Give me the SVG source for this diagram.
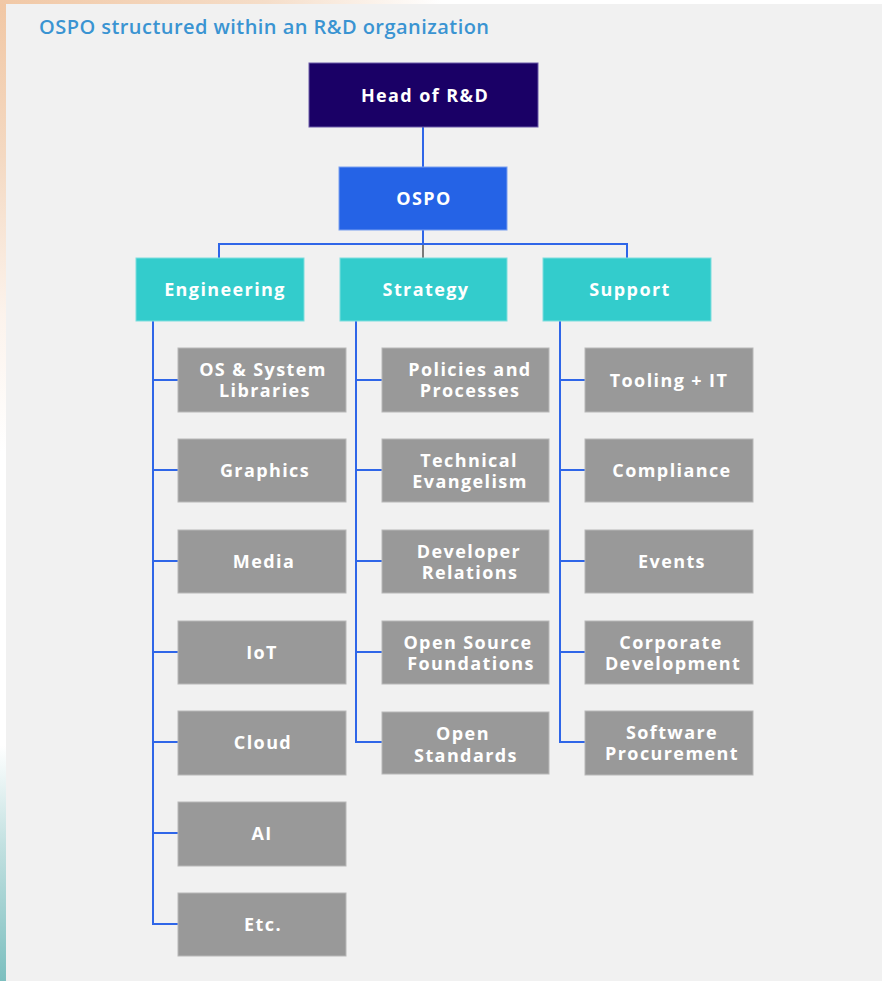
<svg xmlns="http://www.w3.org/2000/svg" width="882" height="981" viewBox="0 0 882 981">
  <defs>
    <linearGradient id="edgeLeft" x1="0" y1="0" x2="0" y2="1">
      <stop offset="0" stop-color="#f1c7a4"/>
      <stop offset="0.16" stop-color="#f4d9c2"/>
      <stop offset="0.32" stop-color="#fcf3ec"/>
      <stop offset="0.46" stop-color="#ffffff"/>
      <stop offset="0.76" stop-color="#ffffff"/>
      <stop offset="0.86" stop-color="#c3e1e1"/>
      <stop offset="1" stop-color="#7cbfbf"/>
    </linearGradient>
    <linearGradient id="edgeTop" x1="0" y1="0" x2="1" y2="0">
      <stop offset="0" stop-color="#f1c8a6"/>
      <stop offset="0.3" stop-color="#f5ddc8"/>
      <stop offset="0.5" stop-color="#ffffff"/>
      <stop offset="1" stop-color="#ffffff"/>
    </linearGradient>
    <style>
      .label { font-family: "Open Sans", "Noto Sans", "Liberation Sans", sans-serif; font-weight: 700; font-size: 18px; letter-spacing: 1.4px; fill: #ffffff; text-anchor: middle; dominant-baseline: central; }
      .title { font-family: "Open Sans", "Noto Sans", "Liberation Sans", sans-serif; font-weight: 600; font-size: 20px; letter-spacing: 0.45px; fill: #3a94d2; }
      .head { fill: #1a0066; stroke: #6b5aa8; stroke-width: 1; }
      .ospo { fill: #2563e6; stroke: #7aa0f0; stroke-width: 1; }
      .dept { fill: #33cccc; stroke: #7fdede; stroke-width: 1; }
      .team { fill: #999999; stroke: #b8b8b8; stroke-width: 1; }
      .link { fill: none; stroke: #2f66e8; stroke-width: 2; }
      .stub { fill: none; stroke: #7a7a7a; stroke-width: 2; }
    </style>
  </defs>

  <!-- page backdrop and framed panel -->
  <rect x="0" y="0" width="882" height="981" fill="#ffffff"/>
  <rect x="0" y="0" width="6" height="981" fill="url(#edgeLeft)"/>
  <rect x="0" y="0" width="882" height="4" fill="url(#edgeTop)"/>
  <rect x="6" y="4" width="876" height="977" fill="#f1f1f1"/>

  <text class="title" x="39" y="34">OSPO structured within an R&amp;D organization</text>

  <!-- connectors -->
  <g id="connectors">
    <path class="link" d="M423 127 V167"/>
    <path class="link" d="M423 230 V244"/>
    <path class="link" d="M219 258 V244 H627 V258"/>
    <path class="stub" d="M423 245 V258"/>
    <!-- Engineering column -->
    <path class="link" d="M153 321 V924 H178"/>
    <path class="link" d="M153 380 H178 M153 470 H178 M153 561 H178 M153 652 H178 M153 742 H178 M153 833 H178"/>
    <!-- Strategy column -->
    <path class="link" d="M356 321 V742 H382"/>
    <path class="link" d="M356 380 H382 M356 470 H382 M356 561 H382 M356 652 H382"/>
    <!-- Support column -->
    <path class="link" d="M560 321 V742 H585"/>
    <path class="link" d="M560 380 H585 M560 470 H585 M560 561 H585 M560 652 H585"/>
  </g>

  <g id="head-rd">
    <rect class="head" x="309" y="63" width="229" height="64"/>
    <text class="label" x="425" y="95">Head of R&amp;D</text>
  </g>
  <g id="ospo">
    <rect class="ospo" x="339" y="167" width="168" height="63"/>
    <text class="label" x="424" y="198">OSPO</text>
  </g>

  <g id="engineering">
    <rect class="dept" x="136" y="258" width="168" height="63"/>
    <text class="label" x="225" y="289">Engineering</text>
  </g>
  <g id="strategy">
    <rect class="dept" x="340" y="258" width="167" height="63"/>
    <text class="label" x="426" y="289">Strategy</text>
  </g>
  <g id="support">
    <rect class="dept" x="543" y="258" width="168" height="63"/>
    <text class="label" x="630" y="289">Support</text>
  </g>

  <!-- Engineering teams -->
  <g id="os-system-libraries">
    <rect class="team" x="178" y="348" width="168" height="64"/>
    <text class="label"><tspan x="263" y="369">OS &amp; System</tspan><tspan x="265" y="390">Libraries</tspan></text>
  </g>
  <g id="graphics">
    <rect class="team" x="178" y="439" width="168" height="63"/>
    <text class="label" x="265" y="470">Graphics</text>
  </g>
  <g id="media">
    <rect class="team" x="178" y="530" width="168" height="63"/>
    <text class="label" x="264" y="561">Media</text>
  </g>
  <g id="iot">
    <rect class="team" x="178" y="621" width="168" height="63"/>
    <text class="label" x="262" y="652">IoT</text>
  </g>
  <g id="cloud">
    <rect class="team" x="178" y="711" width="168" height="64"/>
    <text class="label" x="263" y="742">Cloud</text>
  </g>
  <g id="ai">
    <rect class="team" x="178" y="802" width="168" height="64"/>
    <text class="label" x="262" y="833">AI</text>
  </g>
  <g id="etc">
    <rect class="team" x="178" y="893" width="168" height="63"/>
    <text class="label" x="263" y="924">Etc.</text>
  </g>

  <!-- Strategy teams -->
  <g id="policies-processes">
    <rect class="team" x="382" y="348" width="167" height="64"/>
    <text class="label"><tspan x="470" y="369">Policies and</tspan><tspan x="470" y="390">Processes</tspan></text>
  </g>
  <g id="technical-evangelism">
    <rect class="team" x="382" y="439" width="167" height="63"/>
    <text class="label"><tspan x="469" y="460">Technical</tspan><tspan x="470" y="481">Evangelism</tspan></text>
  </g>
  <g id="developer-relations">
    <rect class="team" x="382" y="530" width="167" height="63"/>
    <text class="label"><tspan x="469" y="551">Developer</tspan><tspan x="470" y="572">Relations</tspan></text>
  </g>
  <g id="open-source-foundations">
    <rect class="team" x="382" y="621" width="167" height="63"/>
    <text class="label"><tspan x="468" y="642">Open Source</tspan><tspan x="471" y="663">Foundations</tspan></text>
  </g>
  <g id="open-standards">
    <rect class="team" x="382" y="712" width="167" height="62"/>
    <text class="label"><tspan x="463" y="733">Open</tspan><tspan x="466" y="755">Standards</tspan></text>
  </g>

  <!-- Support teams -->
  <g id="tooling-it">
    <rect class="team" x="585" y="348" width="168" height="64"/>
    <text class="label" x="669" y="380">Tooling + IT</text>
  </g>
  <g id="compliance">
    <rect class="team" x="585" y="439" width="168" height="63"/>
    <text class="label" x="672" y="470">Compliance</text>
  </g>
  <g id="events">
    <rect class="team" x="585" y="530" width="168" height="63"/>
    <text class="label" x="672" y="561">Events</text>
  </g>
  <g id="corporate-development">
    <rect class="team" x="585" y="621" width="168" height="63"/>
    <text class="label"><tspan x="671" y="642">Corporate</tspan><tspan x="673" y="663">Development</tspan></text>
  </g>
  <g id="software-procurement">
    <rect class="team" x="585" y="711" width="168" height="64"/>
    <text class="label"><tspan x="672" y="732">Software</tspan><tspan x="672" y="753">Procurement</tspan></text>
  </g>
</svg>
